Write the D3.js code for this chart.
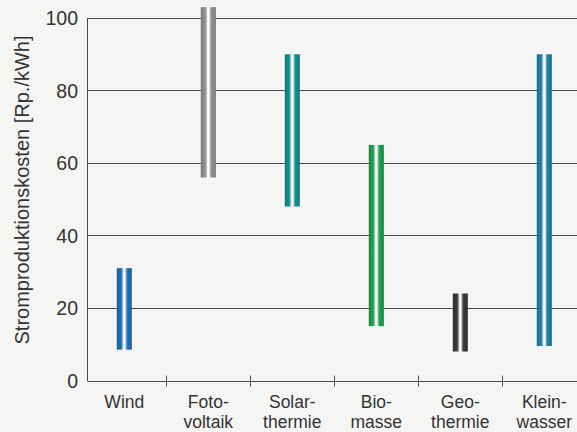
<!DOCTYPE html>
<html><head><meta charset="utf-8">
<script src="https://cdn.jsdelivr.net/npm/d3@7"></script>
<style>
html,body{margin:0;padding:0;background:#f5f5f3;}
svg{display:block;}
text{font-family:"Liberation Sans",Arial,Helvetica,sans-serif;fill:#333333;}
</style></head>
<body>
<svg id="c" width="577" height="432"></svg>
<script>
const categories = ["Wind","Fotovoltaik","Solarthermie","Biomasse","Geothermie","Kleinwasser"];
const labelLine1 = ["Wind","Foto-","Solar-","Bio-","Geo-","Klein-"];
const labelLine2 = ["","voltaik","thermie","masse","thermie","wasser"];
const minValues = [8.5, 56, 48, 15, 8, 9.5];
const maxValues = [31, 103, 90, 65, 24, 90];
const barColors = ["#1d6cb3","#8c8c8c","#10898a","#1f9a4c","#363636","#1a7aa3"];
const yTicks = [0,20,40,60,80,100];
const yTitle = "Stromproduktionskosten [Rp./kWh]";

const svg = d3.select("#c");
const W = 577, H = 432;
const axisX = 87.5;
const x = d3.scaleBand().domain(categories).range([82.3, 586.3]).padding(0);
const y = d3.scaleLinear().domain([0,100]).range([380.5, 18]);

// gradients
const defs = svg.append("defs");
barColors.forEach((c,i)=>{
  const g = defs.append("linearGradient").attr("id","g"+i).attr("x1","0").attr("x2","1").attr("y1","0").attr("y2","0");
  const dark = d3.color(c).darker(0.6).formatHex();
  const light = d3.interpolateRgb(c,"#ffffff")(0.55);
  const stops = [[0,dark],[0.14,c],[0.28,c],[0.4,light],[0.46,"#ffffff"],[0.54,"#ffffff"],[0.6,light],[0.72,c],[0.86,c],[1,dark]];
  stops.forEach(s=>g.append("stop").attr("offset",s[0]).attr("stop-color",s[1]));
});

// gridlines
svg.append("g").selectAll("line").data(yTicks).join("line")
  .attr("x1",axisX).attr("x2",W)
  .attr("y1",d=>Math.round(y(d))+0.5).attr("y2",d=>Math.round(y(d))+0.5)
  .attr("stroke","#4a4a4a").attr("stroke-width",1);

// y axis line
svg.append("line").attr("x1",axisX).attr("x2",axisX).attr("y1",y(100)).attr("y2",y(0)+0.5)
  .attr("stroke","#4a4a4a").attr("stroke-width",1);

// y tick labels
svg.append("g").selectAll("text").data(yTicks).join("text")
  .attr("x",78).attr("y",d=>y(d)).attr("dy","0.36em")
  .attr("text-anchor","end").attr("font-size",19.5).text(d=>d);

// y title
svg.append("text").attr("transform","translate(29,190) rotate(-90)")
  .attr("text-anchor","middle").attr("font-size",20).text(yTitle);

// x ticks at band boundaries
svg.append("g").selectAll("line").data(categories.slice(1)).join("line")
  .attr("x1",d=>Math.round(x(d))+0.5).attr("x2",d=>Math.round(x(d))+0.5)
  .attr("y1",y(0)-5).attr("y2",y(0)+6)
  .attr("stroke","#4a4a4a").attr("stroke-width",1);

// bars
const bw = 15;
svg.append("g").selectAll("rect").data(categories).join("rect")
  .attr("x",(d)=>x(d)+x.bandwidth()/2-bw/2)
  .attr("width",bw)
  .attr("y",(d,i)=>y(maxValues[i]))
  .attr("height",(d,i)=>y(minValues[i])-y(maxValues[i]))
  .attr("fill",(d,i)=>"url(#g"+i+")");

// x labels (two separate text lines)
const cx = d=>x(d)+x.bandwidth()/2;
svg.append("g").selectAll("text").data(categories).join("text")
  .attr("text-anchor","middle").attr("font-size",17.5)
  .attr("x",cx).attr("y",407.5).text((d,i)=>labelLine1[i]);
svg.append("g").selectAll("text").data(categories.filter((d,i)=>labelLine2[i])).join("text")
  .attr("text-anchor","middle").attr("font-size",17.5)
  .attr("x",cx).attr("y",428).text(d=>labelLine2[categories.indexOf(d)]);
</script>
</body></html>
